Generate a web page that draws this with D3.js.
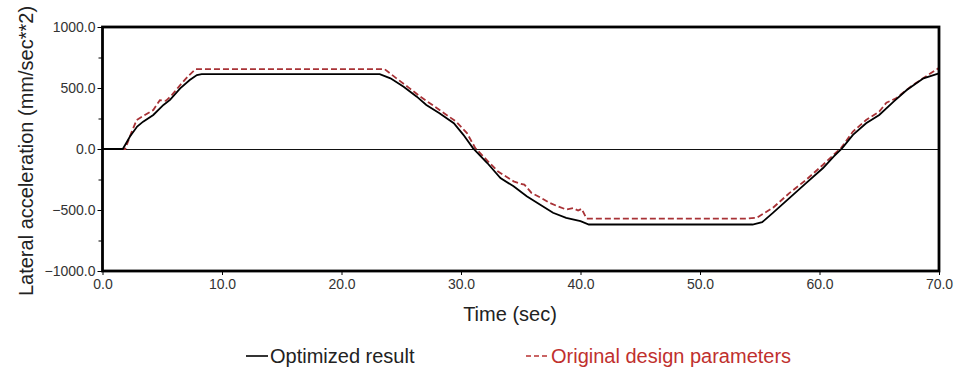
<!DOCTYPE html>
<html>
<head>
<meta charset="utf-8">
<script src="https://cdn.jsdelivr.net/npm/d3@7"></script>
<style>
  body { margin: 0; background: #fff; }
  text { font-family: "Liberation Sans", Arial, sans-serif; }
</style>
</head>
<body>
<div id="chart"></div>
<script>
// Optimized result (black solid)
const optTime = [0, 1.7, 2.3, 2.9, 3.4, 4.25, 5.1, 5.65, 6.5, 7.3, 7.9, 8.3, 23.2, 24.1, 25.2, 26.3, 27.1, 28.2, 29.4, 30.2, 31.0, 32.2, 33.3, 34.4, 35.5, 36.6, 37.7, 38.8, 40.0, 40.7, 54.4, 55.2, 56.1, 57.5, 58.9, 60.3, 61.2, 61.9, 62.8, 63.9, 65.0, 66.2, 67.3, 68.7, 70.0];
const optValue = [0, 0, 102, 184, 224, 279, 361, 402, 497, 565, 606, 614, 614, 579, 510, 429, 361, 293, 211, 116, 7, -115, -238, -306, -388, -455, -523, -564, -592, -619, -619, -600, -523, -401, -278, -156, -61, 7, 116, 211, 279, 388, 483, 579, 620];

// Original design parameters (red dashed)
const origTime = [0, 1.9, 2.4, 2.86, 3.4, 4.25, 4.8, 5.3, 5.7, 6.5, 7.2, 7.8, 23.6, 24.6, 25.6, 26.6, 28.0, 29.6, 30.5, 31.2, 32.2, 33.1, 34.4, 35.0, 35.3, 35.9, 36.6, 37.4, 38.1, 38.8, 39.4, 39.8, 40.1, 40.5, 54.0, 54.75, 56.1, 57.5, 58.9, 60.3, 61.1, 61.8, 62.8, 63.9, 65.0, 65.6, 66.4, 67.8, 70.0];
const origValue = [0, 0, 130, 238, 270, 320, 400, 395, 430, 524, 600, 655, 655, 579, 505, 429, 334, 224, 130, 7, -95, -184, -265, -285, -292, -360, -395, -441, -470, -496, -485, -505, -490, -570, -570, -564, -482, -360, -251, -129, -55, 7, 143, 238, 306, 380, 415, 524, 665];

const xTicks = [0, 10, 20, 30, 40, 50, 60, 70];
const yTicks = [1000, 500, 0, -500, -1000];
const yMinorTicks = [750, 250, -250, -750];

const width = 954, height = 369;
const plotLeft = 102.5, plotRight = 939, plotTop = 27, plotBottom = 271;

const svg = d3.select("#chart").append("svg")
  .attr("width", width)
  .attr("height", height);

const x = d3.scaleLinear().domain([0, 70]).range([plotLeft, plotRight]);
const y = d3.scaleLinear().domain([-1000, 1000]).range([plotBottom, plotTop]);

// minor y ticks
svg.append("g")
  .attr("transform", `translate(${plotLeft},0)`)
  .call(d3.axisLeft(y).tickValues(yMinorTicks).tickSize(4).tickFormat(""))
  .call(g => g.select(".domain").remove())
  .call(g => g.selectAll("line").attr("stroke", "#000"));

// major y ticks
svg.append("g")
  .attr("transform", `translate(${plotLeft},0)`)
  .call(d3.axisLeft(y).tickValues(yTicks).tickSize(5).tickPadding(2).tickFormat(d3.format(".1f")))
  .call(g => g.select(".domain").remove())
  .call(g => g.selectAll("line").attr("stroke", "#000"))
  .call(g => g.selectAll("text").attr("font-size", 14).attr("fill", "#333")
    .attr("font-family", "Liberation Sans, Arial, sans-serif"));

// x ticks
svg.append("g")
  .attr("transform", `translate(0,${plotBottom})`)
  .call(d3.axisBottom(x).tickValues(xTicks).tickSize(4).tickPadding(4).tickFormat(d3.format(".1f")))
  .call(g => g.select(".domain").remove())
  .call(g => g.selectAll("line").attr("stroke", "#000"))
  .call(g => g.selectAll("text").attr("font-size", 14).attr("fill", "#333")
    .attr("font-family", "Liberation Sans, Arial, sans-serif"));

// zero line
svg.append("line")
  .attr("x1", plotLeft).attr("x2", plotRight)
  .attr("y1", y(0) + 0.5).attr("y2", y(0) + 0.5)
  .attr("stroke", "#111").attr("stroke-width", 1);

const line = d3.line().x(d => x(d[0])).y(d => y(d[1]));

svg.append("path")
  .datum(d3.zip(origTime, origValue))
  .attr("d", line)
  .attr("fill", "none")
  .attr("stroke", "#a83236")
  .attr("stroke-width", 1.8)
  .attr("stroke-dasharray", "6,3");

svg.append("path")
  .datum(d3.zip(optTime, optValue))
  .attr("d", line)
  .attr("fill", "none")
  .attr("stroke", "#000")
  .attr("stroke-width", 1.8);

// frame
svg.append("rect")
  .attr("x", plotLeft).attr("y", plotTop)
  .attr("width", plotRight - plotLeft).attr("height", plotBottom - plotTop)
  .attr("fill", "none").attr("stroke", "#000").attr("stroke-width", 2.8);

// axis titles
svg.append("text")
  .attr("x", 510).attr("y", 321)
  .attr("text-anchor", "middle")
  .attr("font-size", 20).attr("fill", "#222")
  .text("Time (sec)");

svg.append("text")
  .attr("transform", "translate(33,151) rotate(-90)")
  .attr("text-anchor", "middle")
  .attr("font-size", 20).attr("fill", "#222")
  .text("Lateral acceleration (mm/sec**2)");

// legend
svg.append("line")
  .attr("x1", 246).attr("x2", 268).attr("y1", 356).attr("y2", 356)
  .attr("stroke", "#000").attr("stroke-width", 1.6);
svg.append("text")
  .attr("x", 270).attr("y", 363)
  .attr("font-size", 20).attr("fill", "#222")
  .text("Optimized result");

svg.append("line")
  .attr("x1", 526).attr("x2", 548).attr("y1", 356).attr("y2", 356)
  .attr("stroke", "#b83232").attr("stroke-width", 1.6)
  .attr("stroke-dasharray", "5,3");
svg.append("text")
  .attr("x", 551).attr("y", 363)
  .attr("font-size", 20).attr("fill", "#c0302e")
  .text("Original design parameters");
</script>
</body>
</html>
